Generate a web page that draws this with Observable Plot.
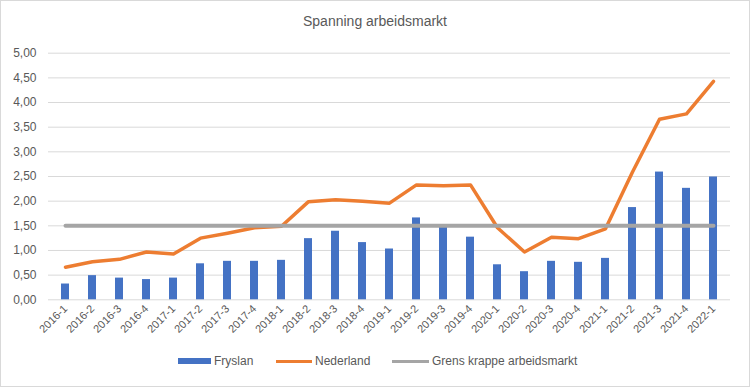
<!DOCTYPE html>
<html><head><meta charset="utf-8">
<script src="https://cdn.jsdelivr.net/npm/d3@7"></script>
<script src="https://cdn.jsdelivr.net/npm/@observablehq/plot@0.6"></script>
<style>
html,body{margin:0;padding:0;background:#fff;}
#chart{position:relative;width:750px;height:387px;overflow:hidden;font-family:"Liberation Sans",Arial,sans-serif;color:#595959;}
#frame{position:absolute;left:0;top:0;width:750px;height:387px;box-sizing:border-box;border:1px solid #d9d9d9;pointer-events:none;}
#title{position:absolute;top:13px;left:0;width:750px;text-align:center;font-size:14px;}
#plot{position:absolute;left:0;top:0;}
#legend{position:absolute;left:0;top:352px;width:750px;height:18px;font-size:12px;}
.item{position:absolute;top:0;height:18px;display:flex;align-items:center;}
.sw{display:inline-block;margin-right:3px;}
</style>
</head><body>
<div id="chart">
  <div id="plot"></div>
  <div id="title">Spanning arbeidsmarkt</div>
  <div id="legend"></div>
  <div id="frame"></div>
</div>
<script>
const quarters = ["2016-1","2016-2","2016-3","2016-4","2017-1","2017-2","2017-3","2017-4","2018-1","2018-2","2018-3","2018-4","2019-1","2019-2","2019-3","2019-4","2020-1","2020-2","2020-3","2020-4","2021-1","2021-2","2021-3","2021-4","2022-1"];
const fryslan = [0.32,0.49,0.44,0.41,0.44,0.73,0.78,0.78,0.80,1.24,1.39,1.16,1.03,1.66,1.47,1.27,0.71,0.57,0.78,0.76,0.84,1.87,2.59,2.26,2.49];
const nederland = [0.66,0.77,0.82,0.97,0.93,1.25,1.35,1.46,1.49,1.99,2.03,2.00,1.96,2.33,2.31,2.33,1.46,0.97,1.27,1.24,1.44,2.59,3.66,3.77,4.43];
const grens = quarters.map(() => 1.5);
const seriesNames = ["Fryslan","Nederland","Grens krappe arbeidsmarkt"];
const colors = ["#4472c4","#ed7d31","#a5a5a5"];
const yTicks = [0,0.5,1,1.5,2,2.5,3,3.5,4,4.5,5];

const data = quarters.map((q,i)=>({q, fry:fryslan[i], ned:nederland[i], grens:grens[i]}));
const fmt = d => d.toFixed(2).replace(".", ",");

const chart = Plot.plot({
  width: 750,
  height: 340,
  marginLeft: 48,
  marginRight: 20,
  marginTop: 52.7,
  marginBottom: 40.7,
  style: {fontFamily: '"Liberation Sans", Arial, sans-serif', color: "#595959", background: "transparent"},
  x: {type: "band", domain: quarters, paddingInner: 0.7, paddingOuter: 0.35, label: null},
  y: {domain: [0,5], label: null},
  marks: [
    Plot.gridY(yTicks, {stroke: "#d9d9d9", strokeOpacity: 1, strokeWidth: 1}),
    Plot.axisY(yTicks, {tickSize: 0, tickPadding: 12, tickFormat: fmt, fontSize: 12, fill: "#595959", label: null}),
    Plot.axisX({tickSize: 0, tickPadding: 7, tickRotate: -45, fontSize: 11, fill: "#595959", label: null}),
    Plot.barY(data, {x: "q", y: "fry", fill: colors[0]}),
    Plot.line(data, {x: "q", y: "ned", stroke: colors[1], strokeWidth: 3.5, strokeLinejoin: "round", strokeLinecap: "round"}),
    Plot.line(data, {x: "q", y: "grens", stroke: colors[2], strokeWidth: 4, strokeLinecap: "round"})
  ]
});
document.getElementById("plot").appendChild(chart);

const legendPos = [{sw:178, w:33, h:6}, {sw:276, w:36, h:3}, {sw:392, w:37, h:3}];
const legend = document.getElementById("legend");
seriesNames.forEach((name,i)=>{
  const it = document.createElement("div");
  it.className = "item";
  it.style.left = legendPos[i].sw + "px";
  const sw = document.createElement("span");
  sw.className = "sw";
  sw.style.width = legendPos[i].w + "px";
  sw.style.height = legendPos[i].h + "px";
  sw.style.background = colors[i];
  it.appendChild(sw);
  const t = document.createElement("span");
  t.textContent = name;
  it.appendChild(t);
  legend.appendChild(it);
});
</script>
</body></html>
